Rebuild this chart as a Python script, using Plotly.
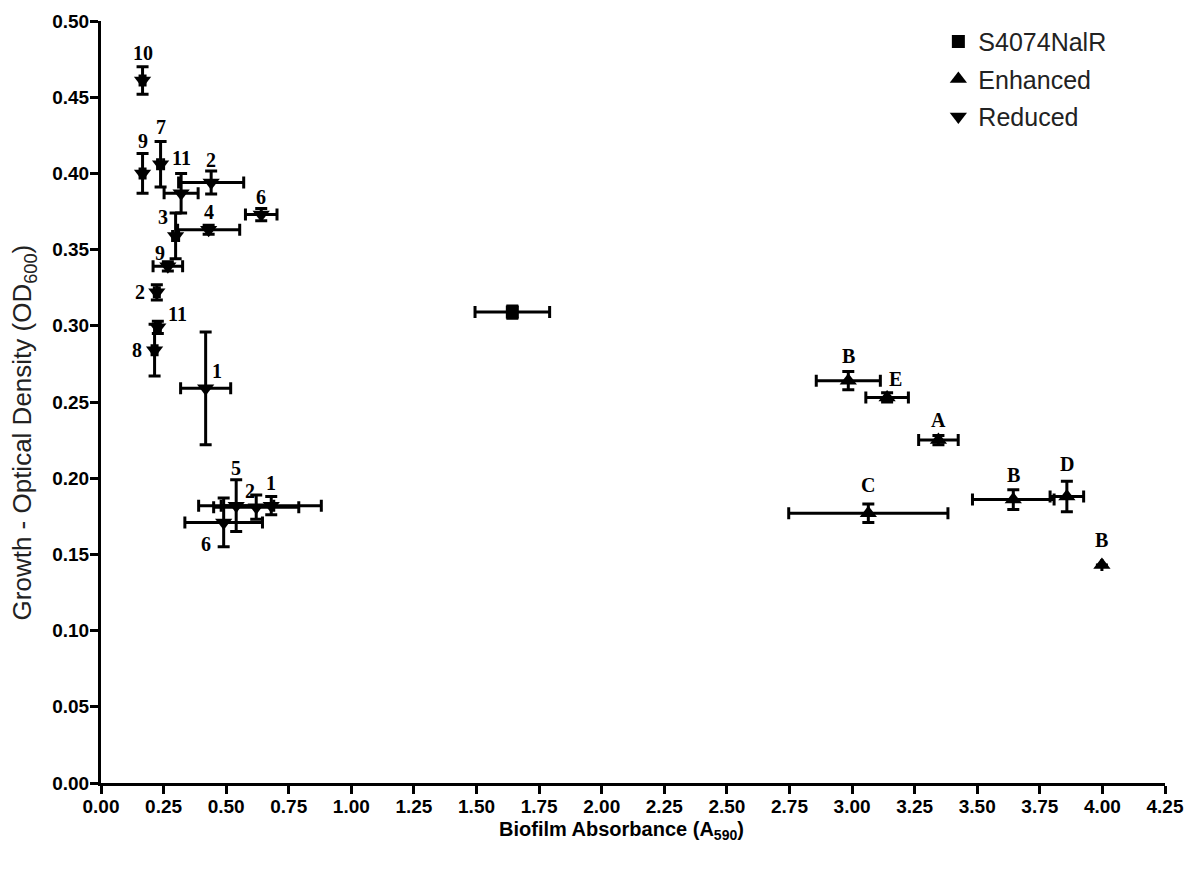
import plotly.graph_objects as go

# ---------------- data ----------------
parent_name = "S4074NalR"
parent_x = [1.643]
parent_y = [0.309]
parent_xerr = [0.149]
parent_yerr = [0.004]

enh_labels = ["B", "E", "A", "C", "B", "D", "B"]
enh_x = [2.985, 3.140, 3.345, 3.065, 3.644, 3.858, 3.998]
enh_y = [0.264, 0.253, 0.225, 0.177, 0.186, 0.188, 0.143]
enh_xerr = [0.128, 0.085, 0.079, 0.318, 0.163, 0.067, 0.0]
enh_yerr = [0.006, 0.003, 0.003, 0.006, 0.0065, 0.010, 0.0]

red_labels = ["10", "9", "7", "11", "2", "6", "3", "4", "9", "2", "11", "8", "1", "5", "2", "1", "6"]
red_x = [0.166, 0.166, 0.238, 0.320, 0.440, 0.640, 0.298, 0.430, 0.267, 0.223, 0.227, 0.214, 0.418,
         0.540, 0.620, 0.680, 0.490]
red_y = [0.461, 0.400, 0.406, 0.387, 0.394, 0.373, 0.359, 0.363, 0.339, 0.322, 0.299, 0.284, 0.259,
         0.182, 0.181, 0.182, 0.171]
red_xerr = [0.010, 0.010, 0.012, 0.068, 0.130, 0.063, 0.012, 0.124, 0.059, 0.010, 0.010, 0.010, 0.100,
            0.150, 0.170, 0.200, 0.155]
red_yerr = [0.009, 0.013, 0.015, 0.013, 0.0075, 0.004, 0.015, 0.003, 0.003, 0.005, 0.004, 0.017, 0.037,
            0.017, 0.008, 0.006, 0.016]

x_title = "Biofilm Absorbance (A<sub>590</sub>)"
y_title = "Growth - Optical Density (OD<sub>600</sub>)"

# ---------------- style ----------------
# label offsets in pixels (dx, dy up)
enh_off = [(0, 25), (8, 18), (0, 20), (0, 28), (0, 25), (0, 32), (0, 25)]
red_off = [(0, 27), (0, 32), (0, 37), (0, 35), (0, 23), (0, 18), (-13, 19), (0, 18), (-8, 13),
           (-17, 0), (20, 13), (-18, 0), (11, 17), (0, 38), (-6, 16), (0, 23), (-18, -22)]

ERR = dict(type="data", symmetric=True, color="black", thickness=3, width=6)


def err(arr):
    d = dict(ERR)
    d["array"] = arr
    return d


fig = go.Figure()
fig.add_trace(go.Scatter(
    x=parent_x, y=parent_y, mode="markers", name=parent_name,
    marker=dict(symbol="square", size=13, color="black"),
    error_x=err(parent_xerr), error_y=err(parent_yerr),
    legendgroup="a", cliponaxis=False))
fig.add_trace(go.Scatter(
    x=enh_x, y=enh_y, mode="markers", name="Enhanced",
    marker=dict(symbol="triangle-up", size=15, color="black"),
    error_x=err(enh_xerr), error_y=err(enh_yerr),
    legendgroup="b", cliponaxis=False))
fig.add_trace(go.Scatter(
    x=red_x, y=red_y, mode="markers", name="Reduced",
    marker=dict(symbol="triangle-down", size=15, color="black"),
    error_x=err(red_xerr), error_y=err(red_yerr),
    legendgroup="c", cliponaxis=False))

ann = []
lab_font = dict(family="Liberation Serif", size=20, color="black")
for lbl, x, y, (dx, dy) in zip(enh_labels, enh_x, enh_y, enh_off):
    ann.append(dict(x=x, y=y, text="<b>%s</b>" % lbl, showarrow=False, xshift=dx, yshift=dy,
                    font=lab_font, xanchor="center", yanchor="middle"))
for lbl, x, y, (dx, dy) in zip(red_labels, red_x, red_y, red_off):
    ann.append(dict(x=x, y=y, text="<b>%s</b>" % lbl, showarrow=False, xshift=dx, yshift=dy,
                    font=lab_font, xanchor="center", yanchor="middle"))

ann.append(dict(xref="paper", yref="paper", x=0.489, y=-0.062, text="<b>%s</b>" % x_title,
                showarrow=False, xanchor="center", yanchor="middle",
                font=dict(family="Liberation Sans", size=20, color="black")))
ann.append(dict(xref="paper", yref="paper", x=-0.0724, y=0.46, text=y_title,
                showarrow=False, xanchor="center", yanchor="middle", textangle=-90,
                font=dict(family="Liberation Sans", size=26, color="#222")))

axis_common = dict(showline=True, linewidth=3, linecolor="black", ticks="outside", ticklen=8,
                   tickwidth=3, tickcolor="black", showgrid=False, zeroline=False, mirror=False,
                   automargin=False, ticklabeloverflow="allow",
                   tickfont=dict(family="Liberation Sans", size=19, color="black", weight="bold"),
                   tickformat=".2f")

fig.update_layout(
    width=1195, height=865,
    margin=dict(l=93, r=38, t=11, b=90),
    paper_bgcolor="white", plot_bgcolor="white",
    showlegend=True,
    legend=dict(x=0.787, y=1.003, xanchor="left", yanchor="top", traceorder="grouped",
                tracegroupgap=2, font=dict(family="Liberation Sans", size=25, color="#222"),
                bgcolor="rgba(0,0,0,0)"),
    xaxis=dict(range=[0, 4.25], dtick=0.25, tick0=0, ticklabelstandoff=-4, **axis_common),
    yaxis=dict(range=[0, 0.5], dtick=0.05, tick0=0, ticklabelstandoff=-3, **axis_common),
    annotations=ann,
)

fig.write_html("out.html")
